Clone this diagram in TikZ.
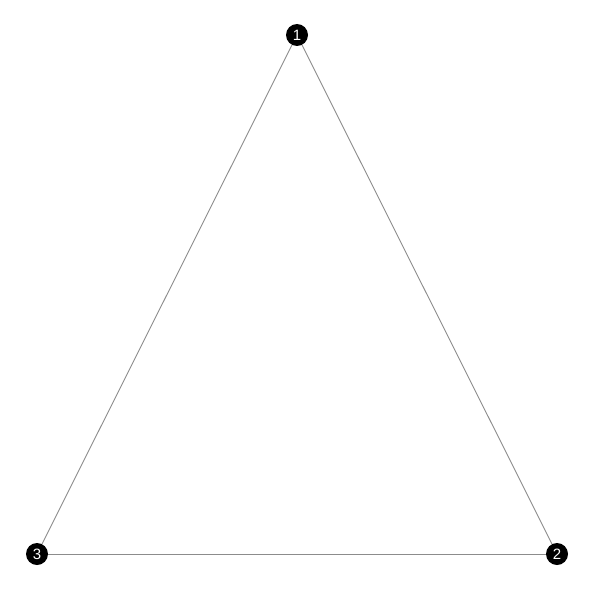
\documentclass[tikz,border=0pt]{standalone}
\usepackage{fontspec}
\setmainfont{Liberation Sans}
\definecolor{edgegray}{HTML}{8C8C8C}

\begin{document}
\begin{tikzpicture}[
    x=1pt, y=-1pt,
    vertex/.style={circle, fill=black, minimum size=22pt, inner sep=0pt,
        text=white, font=\fontsize{15}{16}\selectfont},
    link/.style={draw=edgegray, line width=0.9pt},
]

% === Canvas ===
\useasboundingbox (0, 0) rectangle (604, 610);

% === Vertices ===
\node[vertex] (v1) at (297, 35) {1};
\node[vertex] (v2) at (557, 554) {2};
\node[vertex] (v3) at (37, 554) {3};

% === Edges ===
\draw[link] (v1) -- (v2);
\draw[link] (v2) -- (v3);
\draw[link] (v3) -- (v1);

\end{tikzpicture}
\end{document}
